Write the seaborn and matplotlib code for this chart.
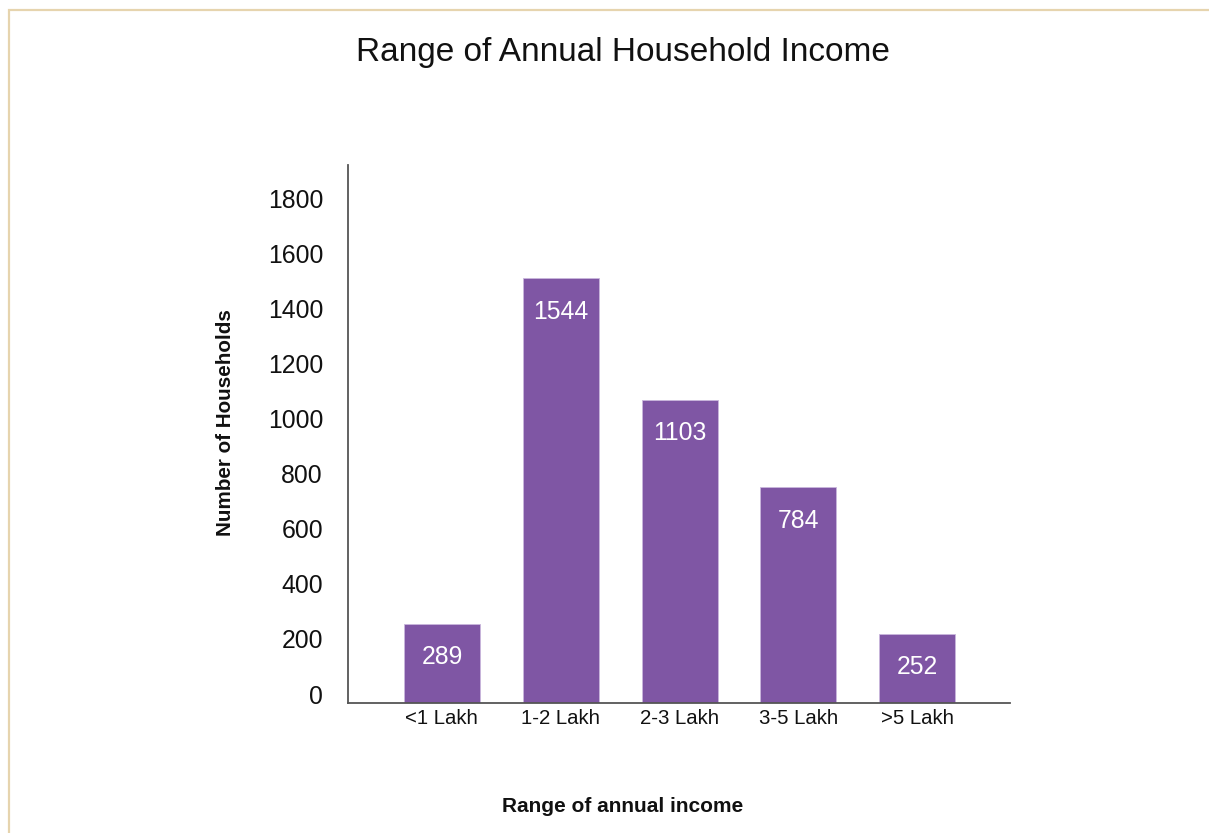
import matplotlib
matplotlib.use("Agg")
import matplotlib.pyplot as plt
import matplotlib.transforms as mtransforms
from matplotlib.patches import Rectangle
import seaborn as sns
import pandas as pd

# Household counts per annual income band
income_ranges = ["<1 Lakh", "1-2 Lakh", "2-3 Lakh", "3-5 Lakh", ">5 Lakh"]
households = [289, 1544, 1103, 784, 252]
y_ticks = [0, 200, 400, 600, 800, 1000, 1200, 1400, 1600, 1800]

sns.set_theme(style="white")
plt.rcParams["font.family"] = ["Liberation Sans", "DejaVu Sans"]

df = pd.DataFrame({"range": income_ranges, "count": households})

fig = plt.figure(figsize=(12.09, 8.33), dpi=100)
fig.patch.set_facecolor("white")

# thin beige frame along the top and left edges
fig.add_artist(Rectangle((8.5 / 1209, -0.05), 1.2, 1 - 10.5 / 833 + 0.05,
                         transform=fig.transFigure, fill=False,
                         edgecolor="#E6D4AE", linewidth=1.6))

ax = fig.add_axes([348 / 1209, 1 - 703 / 833, (1010 - 348) / 1209, (703 - 165) / 833])

sns.barplot(data=df, x="range", y="count", color="#7F56A4", saturation=1,
            width=0.64, ax=ax, edgecolor="#C9B6DC", linewidth=0.6)

ax.set_xlim(-0.79, 4.78)
ax.set_ylim(0, 1956)
ax.set_yticks(y_ticks)
ax.set_yticklabels([str(t) for t in y_ticks])
ax.tick_params(axis="y", length=0, pad=18, labelsize=17.8, labelcolor="#111111")
ax.tick_params(axis="x", length=0, pad=4, labelsize=14.7, labelcolor="#111111")

# y labels sit slightly above their gridline positions
shift = mtransforms.ScaledTranslation(0, 9 / 100, fig.dpi_scale_trans)
for lbl in ax.get_yticklabels():
    lbl.set_transform(lbl.get_transform() + shift)

for side in ["top", "right"]:
    ax.spines[side].set_visible(False)
for side in ["left", "bottom"]:
    ax.spines[side].set_color("#555555")
    ax.spines[side].set_linewidth(1.3)

for i, v in enumerate(households):
    ax.annotate(str(v), xy=(i, v), xytext=(0, -24), textcoords="offset points",
                ha="center", va="center", color="white", fontsize=17.8)

ax.set_xlabel("")
ax.set_ylabel("")

fig.text(623 / 1209, 1 - 52 / 833, "Range of Annual Household Income",
         ha="center", va="center", fontsize=24, color="#111111")
fig.text(226 / 1209, 1 - 423 / 833, "Number of Households", rotation=90,
         ha="center", va="center", fontsize=14.9, fontweight="bold", color="#111111")
fig.text(623 / 1209, 1 - 807 / 833, "Range of annual income",
         ha="center", va="center", fontsize=15, fontweight="bold", color="#111111")

fig.savefig("out.png", dpi=100, facecolor="white")
